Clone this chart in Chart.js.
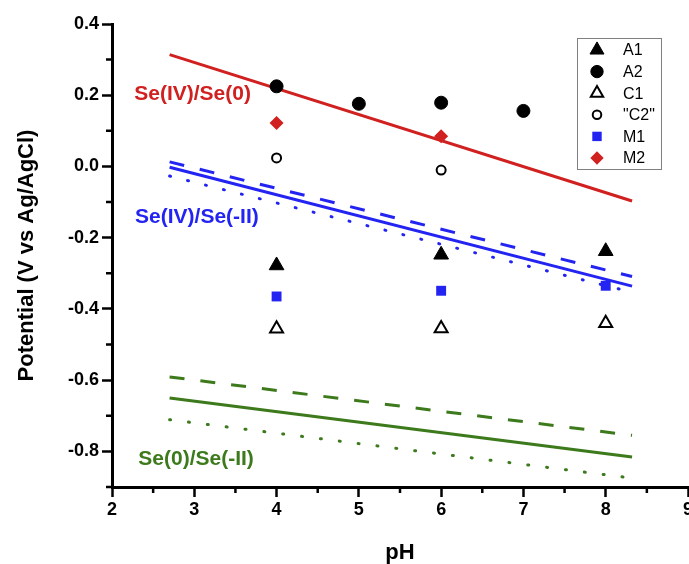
<!DOCTYPE html>
<html>
<head>
<meta charset="utf-8">
<script src="https://cdn.jsdelivr.net/npm/chart.js"></script>
<style>
  body { margin: 0; background: #ffffff; }
  #wrap { width: 689px; height: 564px; }
</style>
</head>
<body>
<div id="wrap"><canvas id="myChart" width="689" height="564"></canvas></div>
<script>
// pH range of the calculated lines
var lineX = [2.7, 8.32];
// calculated potentials (V vs Ag/AgCl) at the two ends
var seIV_Se0 = [0.314, -0.097];
var seIV_SeII = [-0.002, -0.336];
var seIV_SeII_dash = [0.013, -0.309];
var seIV_SeII_dot = [-0.027, -0.353];
var se0_SeII = [-0.650, -0.816];
var se0_SeII_dash = [-0.591, -0.755];
var se0_SeII_dot = [-0.711, -0.875];

// measured points
var pH_A1 = [4, 6, 8];
var A1 = [-0.278, -0.248, -0.238];
var pH_A2 = [4, 5, 6, 7];
var A2 = [0.225, 0.176, 0.179, 0.156];
var pH_C1 = [4, 6, 8];
var C1 = [-0.456, -0.455, -0.440];
var pH_C2 = [4, 6];
var C2 = [0.024, -0.010];
var pH_M1 = [4, 6, 8];
var M1 = [-0.365, -0.349, -0.335];
var pH_M2 = [4, 6];
var M2 = [0.122, 0.085];

var RED = "#d0201f", BLUE = "#2323f2", GREEN = "#3c7a1c";
var FONT = "'Liberation Sans', Arial, sans-serif";

function pts(xs, ys) {
  return xs.map(function (x, i) { return { x: x, y: ys[i] }; });
}

function lineSet(ys, color, dash) {
  return {
    label: "",
    data: pts(lineX, ys),
    showLine: true,
    pointRadius: 0,
    borderColor: color,
    borderWidth: 3,
    borderDash: dash || [],
    borderCapStyle: dash && dash[0] < 3 ? "round" : "butt"
  };
}

var markers = [
  { label: "A1", data: pts(pH_A1, A1), pointStyle: "triangle", pointRadius: 8.5, backgroundColor: "#000", borderColor: "#000", borderWidth: 1 },
  { label: "A2", data: pts(pH_A2, A2), pointStyle: "circle", pointRadius: 6.5, backgroundColor: "#000", borderColor: "#000", borderWidth: 1 },
  { label: "C1", data: pts(pH_C1, C1), pointStyle: "triangle", pointRadius: 7.5, backgroundColor: "#fff", borderColor: "#000", borderWidth: 2 },
  { label: "\"C2\"", data: pts(pH_C2, C2), pointStyle: "circle", pointRadius: 4.5, backgroundColor: "#fff", borderColor: "#000", borderWidth: 2 },
  { label: "M1", data: pts(pH_M1, M1), pointStyle: "rect", pointRadius: 7, backgroundColor: BLUE, borderColor: BLUE, borderWidth: 0 },
  { label: "M2", data: pts(pH_M2, M2), pointStyle: "rectRot", pointRadius: 7, backgroundColor: RED, borderColor: RED, borderWidth: 0 }
];
markers.forEach(function (m) { m.pointHoverRadius = m.pointRadius; });

var lines = [
  lineSet(seIV_Se0, RED),
  lineSet(seIV_SeII, BLUE),
  lineSet(seIV_SeII_dash, BLUE, [15, 16]),
  lineSet(seIV_SeII_dot, BLUE, [1, 17.5]),
  lineSet(se0_SeII, GREEN),
  lineSet(se0_SeII_dash, GREEN, [15, 16]),
  lineSet(se0_SeII_dot, GREEN, [1, 18])
];

// short minor ticks (Chart.js only has one tick length)
var minorTicks = {
  id: "minorTicks",
  afterDraw: function (chart) {
    var ctx = chart.ctx, area = chart.chartArea;
    var xs = chart.scales.x, ys = chart.scales.y;
    ctx.save();
    ctx.strokeStyle = "#000";
    ctx.lineWidth = 2.5;
    ctx.beginPath();
    xs.ticks.forEach(function (t) {
      if (Number.isInteger(t.value)) return;
      var px = xs.getPixelForValue(t.value);
      ctx.moveTo(px, area.bottom);
      ctx.lineTo(px, area.bottom + 6);
    });
    ys.ticks.forEach(function (t) {
      if (Math.round(t.value * 10) % 2 === 0) return;
      var py = ys.getPixelForValue(t.value);
      ctx.moveTo(area.left, py);
      ctx.lineTo(area.left - 6, py);
    });
    ctx.stroke();
    ctx.restore();
  }
};

// the names written next to the lines
var lineNames = {
  id: "lineNames",
  afterDraw: function (chart) {
    var ctx = chart.ctx, xs = chart.scales.x, ys = chart.scales.y;
    var items = [
      ["Se(IV)/Se(0)", RED, 2.27, 0.186],
      ["Se(IV)/Se(-II)", BLUE, 2.28, -0.159],
      ["Se(0)/Se(-II)", GREEN, 2.32, -0.839]
    ];
    ctx.save();
    ctx.font = "bold 21px " + FONT;
    ctx.textAlign = "left";
    ctx.textBaseline = "alphabetic";
    items.forEach(function (it) {
      ctx.fillStyle = it[1];
      ctx.fillText(it[0], xs.getPixelForValue(it[2]), ys.getPixelForValue(it[3]));
    });
    ctx.restore();
  }
};

// boxed legend in the top right corner
var boxLegend = {
  id: "boxLegend",
  afterDraw: function (chart) {
    var ctx = chart.ctx, area = chart.chartArea;
    var left = area.right - 111, top = area.top + 14, w = 84, h = 131;
    ctx.save();
    ctx.fillStyle = "#fff";
    ctx.fillRect(left, top, w, h);
    ctx.strokeStyle = "#808080";
    ctx.lineWidth = 1;
    ctx.strokeRect(left + 0.5, top + 0.5, w, h);
    ctx.font = "16px " + FONT;
    ctx.textBaseline = "middle";
    ctx.textAlign = "left";
    markers.forEach(function (m, i) {
      var y = top + 12 + i * 21.6;
      ctx.fillStyle = m.backgroundColor;
      ctx.strokeStyle = m.borderColor;
      ctx.lineWidth = m.borderWidth;
      Chart.helpers.drawPoint(ctx, {
        pointStyle: m.pointStyle,
        radius: m.pointRadius * 0.95,
        borderWidth: m.borderWidth,
        rotation: 0
      }, left + 20, y);
      ctx.fillStyle = "#000";
      ctx.fillText(m.label, left + 46, y + 1);
    });
    ctx.restore();
  }
};

new Chart(document.getElementById("myChart"), {
  type: "scatter",
  data: { datasets: markers.concat(lines) },
  options: {
    responsive: false,
    animation: false,
    layout: { autoPadding: false, padding: { left: 0, right: 1, top: 24, bottom: 0 } },
    plugins: {
      legend: { display: false },
      tooltip: { enabled: false }
    },
    scales: {
      x: {
        type: "linear",
        min: 2,
        max: 9,
        afterFit: function (s) { s.height = 77; s.paddingLeft = 0; s.paddingRight = 0; },
        border: { display: true, color: "#000", width: 3 },
        grid: {
          drawOnChartArea: false,
          drawTicks: true,
          tickLength: 10,
          tickWidth: 2.5,
          tickColor: function (c) { return c.tick && Number.isInteger(c.tick.value) ? "#000" : "rgba(0,0,0,0)"; }
        },
        ticks: {
          stepSize: 0.5,
          autoSkip: false,
          maxRotation: 0,
          padding: 2,
          color: "#000",
          font: { family: FONT, size: 18, weight: "bold" },
          callback: function (v) { return Number.isInteger(v) ? String(v) : ""; }
        },
        title: {
          display: true,
          text: "pH",
          color: "#000",
          padding: 0,
          font: { family: FONT, size: 22, weight: "bold", lineHeight: 1 }
        }
      },
      y: {
        type: "linear",
        min: -0.9,
        max: 0.4,
        afterFit: function (s) { s.width = 112; s.paddingTop = 0; s.paddingBottom = 0; },
        border: { display: true, color: "#000", width: 3 },
        grid: {
          drawOnChartArea: false,
          drawTicks: true,
          tickLength: 10,
          tickWidth: 2.5,
          tickColor: function (c) { return c.tick && Math.round(c.tick.value * 10) % 2 === 0 ? "#000" : "rgba(0,0,0,0)"; }
        },
        ticks: {
          stepSize: 0.1,
          autoSkip: false,
          padding: 3,
          color: "#000",
          font: { family: FONT, size: 18, weight: "bold" },
          callback: function (v) { return Math.round(v * 10) % 2 === 0 ? v.toFixed(1) : ""; }
        },
        title: {
          display: true,
          text: "Potential (V vs Ag/AgCl)",
          color: "#000",
          padding: { top: 16, bottom: 0 },
          font: { family: FONT, size: 22, weight: "bold", lineHeight: 1 }
        }
      }
    }
  },
  plugins: [minorTicks, lineNames, boxLegend]
});
</script>
</body>
</html>
